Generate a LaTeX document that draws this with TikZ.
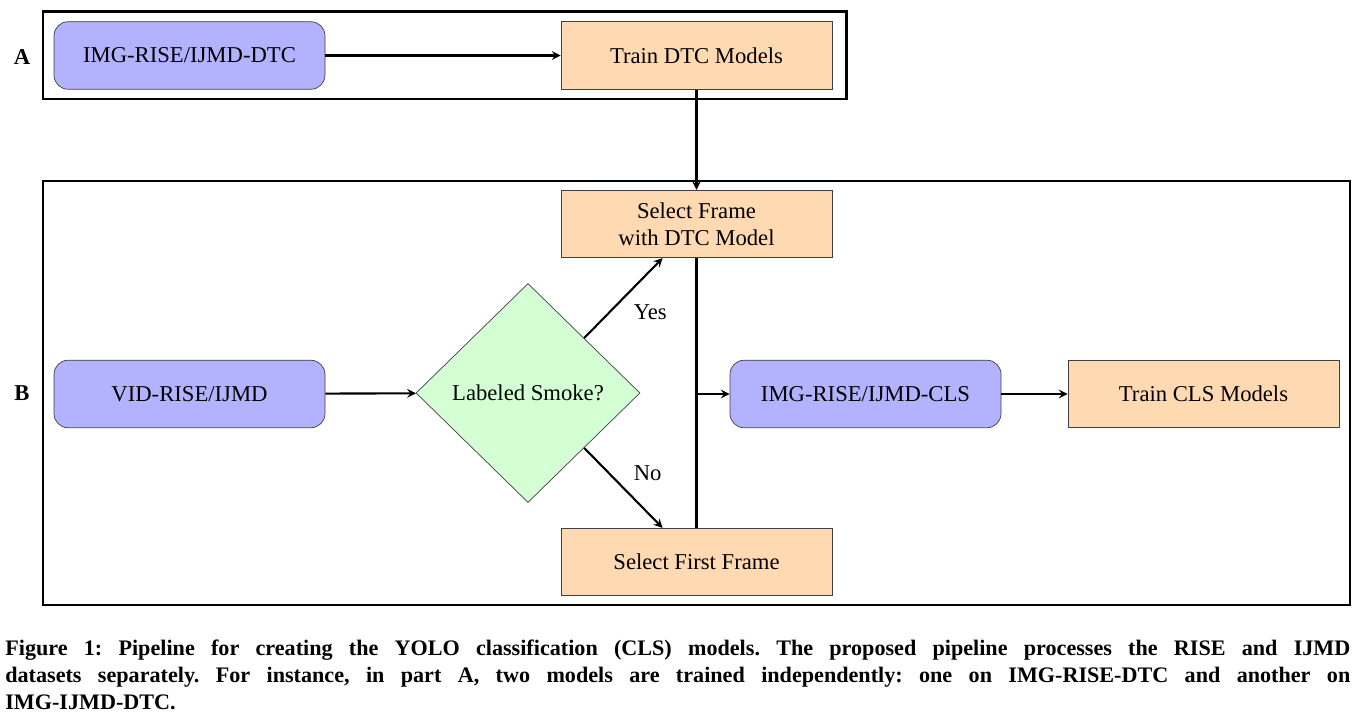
\documentclass[tikz,border=0pt]{standalone}
\usepackage{fontspec}
\setmainfont{Liberation Serif}
\usetikzlibrary{shapes.geometric,calc}

\tikzset{
  dataset/.style={draw=black!75, fill=blue!30, rounded corners=8pt, minimum width=5.42cm, minimum height=1.35cm, font=\fontsize{12.9}{15.5}\selectfont},
  process/.style={draw=black!75, fill=orange!30, minimum width=5.42cm, minimum height=1.35cm, align=center, font=\fontsize{12.9}{15.5}\selectfont},
  decision/.style={draw=black!75, fill=green!17, diamond, minimum width=4.48cm, minimum height=4.38cm, inner sep=0pt, font=\fontsize{12.9}{15.5}\selectfont},
  flow/.style={->, >=stealth, line width=1.2pt}
}

\begin{document}
\begin{tikzpicture}
\useasboundingbox (0, 0) rectangle (27.16, -14.56);

% part A
\draw [line width=1.7pt] (0.86, -0.24) rectangle (16.92, -1.98);
\node [font=\fontsize{12.9}{15.5}\selectfont\bfseries] (labA) at (0.44, -1.14) {A};
\node [dataset] (imgdtc) at (3.79, -1.11) {IMG-RISE/IJMD-DTC};
\node [process] (traindtc) at (13.93, -1.11) {Train DTC Models};
\draw [flow] (imgdtc) -- (traindtc);

% part B
\draw [line width=1.2pt] (0.86, -3.62) rectangle (27.0, -12.1);
\node [font=\fontsize{12.9}{15.5}\selectfont\bfseries] (labB) at (0.44, -7.86) {B};
\node [process] (selframe) at (13.93, -4.48) {Select Frame\\with DTC Model};
\node [dataset] (vid) at (3.79, -7.88) {VID-RISE/IJMD};
\node [decision] (smoke) at (10.56, -7.86) {Labeled Smoke?};
\node [dataset] (cls) at (17.31, -7.88) {IMG-RISE/IJMD-CLS};
\node [process] (traincls) at (24.07, -7.88) {Train CLS Models};
\node [process] (selfirst) at (13.93, -11.24) {Select First Frame};

\draw [flow] (traindtc) -- (selframe);
\draw [flow] (vid) -- (smoke);
\draw [flow] (smoke.north east) -- ($(selframe.south west)!0.375!(selframe.south east)$)
  node [midway, below right, font=\fontsize{12.9}{15.5}\selectfont, xshift=2pt] {Yes};
\draw [flow] (smoke.south east) -- ($(selfirst.north west)!0.375!(selfirst.north east)$)
  node [midway, above right, font=\fontsize{12.9}{15.5}\selectfont, xshift=2pt] {No};
\draw [line width=1.2pt] (selframe.south) -- (selfirst.north);
\draw [flow] (selframe.south |- cls.west) -- (cls.west);
\draw [flow] (cls) -- (traincls);

% caption
\node [anchor=north west, inner sep=0pt, text width=26.9cm, align=justify,
  font=\fontsize{12.6}{15.3}\selectfont\bfseries\frenchspacing] (caption) at (0.1, -12.8)
  {Figure 1: Pipeline for creating the YOLO classification (CLS) models. The proposed pipeline processes the RISE and IJMD\linebreak datasets separately. For instance, in part A, two models are trained independently: one on IMG-RISE-DTC and another on\linebreak IMG-IJMD-DTC.};
\end{tikzpicture}
\end{document}
